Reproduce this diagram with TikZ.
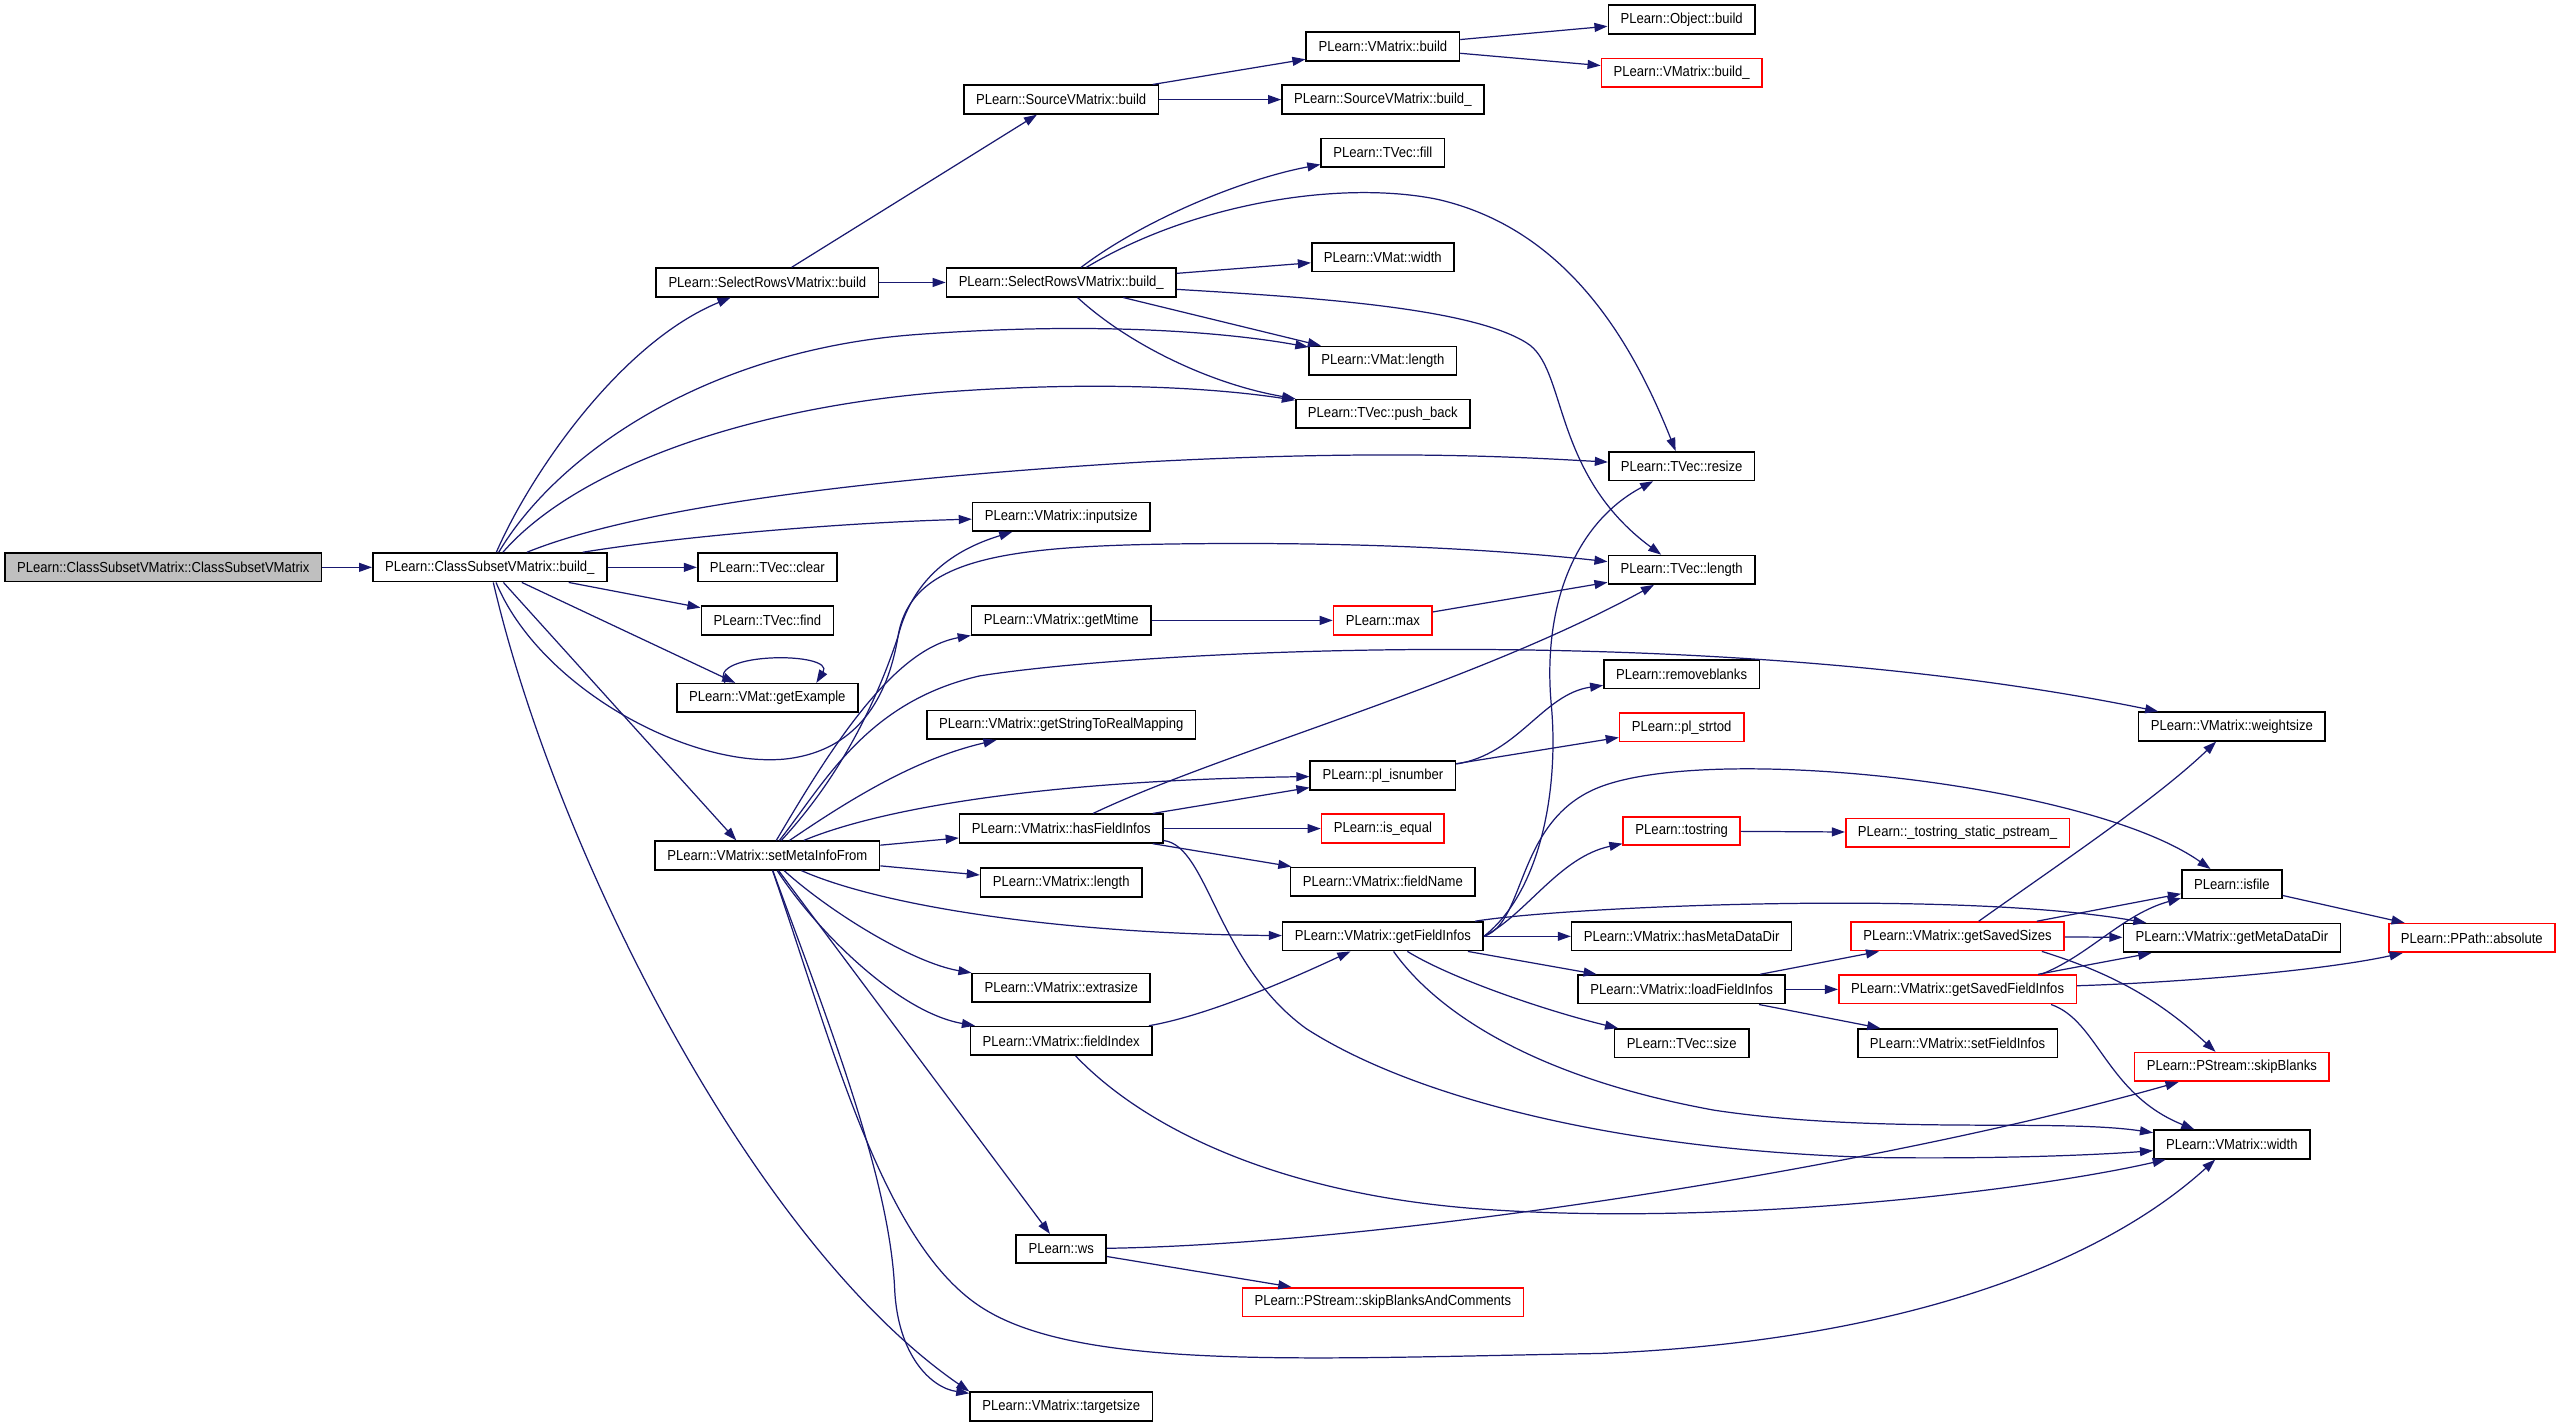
\documentclass[tikz,border=0pt]{standalone}
\usepackage{fontspec}
\setmainfont{Liberation Sans}[FakeStretch=0.9]
\usepackage{tikz}
\usetikzlibrary{arrows.meta}
\definecolor{edgeblue}{HTML}{191970}

\begin{document}
\begin{tikzpicture}[x=1pt, y=-1pt,
    box/.style={draw=black, line width=1pt, fill=white, minimum height=17.5pt,
                inner xsep=7.5pt, inner ysep=0pt, font=\fontsize{8.9}{10.5}\selectfont},
    redbox/.style={box, draw=red},
    rootbox/.style={box, fill=gray!50},
    call/.style={-{Triangle[length=8pt,width=5.5pt]}, draw=edgeblue, line width=0.75pt}]
    \path[use as bounding box, fill=white] (0,0) rectangle (1568,871.6);

    % functions, column by column
    \node[rootbox] (csvctor) at (100,347.5) {PLearn::ClassSubsetVMatrix::ClassSubsetVMatrix};
    \node[box] (csvbuild) at (300,347.5) {PLearn::ClassSubsetVMatrix::build\_};

    \node[box] (srvbuild) at (470,173) {PLearn::SelectRowsVMatrix::build};
    \node[box] (tvclear) at (470,347.5) {PLearn::TVec::clear};
    \node[box] (tvfind) at (470,380) {PLearn::TVec::find};
    \node[box] (getexample) at (470,427.5) {PLearn::VMat::getExample};
    \node[box] (setmeta) at (470,524) {PLearn::VMatrix::setMetaInfoFrom};

    \node[box] (svbuild) at (650,61) {PLearn::SourceVMatrix::build};
    \node[box] (srvbuildu) at (650,173) {PLearn::SelectRowsVMatrix::build\_};
    \node[box] (inputsize) at (650,316.5) {PLearn::VMatrix::inputsize};
    \node[box] (getmtime) at (650,380) {PLearn::VMatrix::getMtime};
    \node[box] (strmap) at (650,444) {PLearn::VMatrix::getStringToRealMapping};
    \node[box] (hasfi) at (650,507.5) {PLearn::VMatrix::hasFieldInfos};
    \node[box] (vmlength) at (650,540.5) {PLearn::VMatrix::length};
    \node[box] (extrasize) at (650,605) {PLearn::VMatrix::extrasize};
    \node[box] (fieldindex) at (650,637.5) {PLearn::VMatrix::fieldIndex};
    \node[box] (ws) at (650,765) {PLearn::ws};
    \node[box] (targetsize) at (650,861.5) {PLearn::VMatrix::targetsize};

    \node[box] (vmbuild) at (847,28.5) {PLearn::VMatrix::build};
    \node[box] (svbuildu) at (847,61) {PLearn::SourceVMatrix::build\_};
    \node[box] (tvfill) at (847,93.5) {PLearn::TVec::fill};
    \node[box] (vmatwidth) at (847,157.5) {PLearn::VMat::width};
    \node[box] (vmatlength) at (847,221) {PLearn::VMat::length};
    \node[box] (tvpush) at (847,253.5) {PLearn::TVec::push\_back};
    \node[redbox] (plmax) at (847,380) {PLearn::max};
    \node[box] (isnumber) at (847,475) {PLearn::pl\_isnumber};
    \node[redbox] (isequal) at (847,507.5) {PLearn::is\_equal};
    \node[box] (fieldname) at (847,540) {PLearn::VMatrix::fieldName};
    \node[box] (getfi) at (847,573.5) {PLearn::VMatrix::getFieldInfos};
    \node[redbox] (skipbac) at (847,797.5) {PLearn::PStream::skipBlanksAndComments};

    \node[box] (objbuild) at (1030,12) {PLearn::Object::build};
    \node[redbox] (vmbuildu) at (1030,44.5) {PLearn::VMatrix::build\_};
    \node[box] (tvresize) at (1030,285.5) {PLearn::TVec::resize};
    \node[box] (tvlength) at (1030,349) {PLearn::TVec::length};
    \node[box] (removeblanks) at (1030,413) {PLearn::removeblanks};
    \node[redbox] (strtod) at (1030,445.5) {PLearn::pl\_strtod};
    \node[redbox] (tostring) at (1030,509) {PLearn::tostring};
    \node[box] (hasmetadir) at (1030,573.5) {PLearn::VMatrix::hasMetaDataDir};
    \node[box] (loadfi) at (1030,606) {PLearn::VMatrix::loadFieldInfos};
    \node[box] (tvsize) at (1030,639) {PLearn::TVec::size};

    \node[redbox] (pstream) at (1199,510) {PLearn::\_tostring\_static\_pstream\_};
    \node[redbox] (savedsizes) at (1199,573.5) {PLearn::VMatrix::getSavedSizes};
    \node[redbox] (savedfi) at (1199,606) {PLearn::VMatrix::getSavedFieldInfos};
    \node[box] (setfi) at (1199,639) {PLearn::VMatrix::setFieldInfos};

    \node[box] (weightsize) at (1367,445) {PLearn::VMatrix::weightsize};
    \node[box] (isfile) at (1367,541.5) {PLearn::isfile};
    \node[box] (getmetadir) at (1367,574.5) {PLearn::VMatrix::getMetaDataDir};
    \node[redbox] (skipblanks) at (1367,653.5) {PLearn::PStream::skipBlanks};
    \node[box] (vmwidth) at (1367,701) {PLearn::VMatrix::width};
    \node[redbox] (absolute) at (1514,574.5) {PLearn::PPath::absolute};

    % straight calls
    \foreach \a/\b in {csvctor/csvbuild, csvbuild/tvclear, csvbuild/tvfind, csvbuild/getexample,
                       srvbuild/svbuild, srvbuild/srvbuildu, svbuild/vmbuild, svbuild/svbuildu,
                       vmbuild/objbuild, vmbuild/vmbuildu, srvbuildu/vmatwidth, srvbuildu/vmatlength,
                       getmtime/plmax, plmax/tvlength, isnumber/strtod, hasfi/isequal, hasfi/fieldname,
                       hasfi/isnumber, setmeta/hasfi, setmeta/vmlength, setmeta/ws, getfi/hasmetadir,
                       getfi/loadfi, loadfi/savedsizes, loadfi/savedfi, loadfi/setfi,
                       savedsizes/getmetadir, savedsizes/isfile, savedfi/getmetadir,
                       tostring/pstream, isfile/absolute, ws/skipbac}
        \draw[call] (\a) -- (\b);
    \draw[call] (csvbuild) -- ([xshift=-19pt]setmeta.north);

    % curved calls of build_
    \draw[call] (csvbuild) .. controls (325,290) and (380,210) .. (srvbuild);
    \draw[call] (csvbuild) .. controls (340,280) and (430,215) .. (560,205) .. controls (680,196) and (760,205) .. (vmatlength);
    \draw[call] (csvbuild) .. controls (350,290) and (450,250) .. (580,240) .. controls (690,232) and (760,240) .. (tvpush);
    \draw[call] (csvbuild) .. controls (380,315) and (500,295) .. (700,283) .. controls (850,275) and (930,280) .. (tvresize);
    \draw[call] (csvbuild) .. controls (420,328) and (520,320) .. (inputsize);
    \draw[call] (csvbuild) .. controls (330,420) and (420,470) .. (480,465) .. controls (530,460) and (545,420) .. (550,390)
        .. controls (558,340) and (620,334) .. (735,333) .. controls (850,332) and (930,338) .. (tvlength);
    \draw[call] (csvbuild) .. controls (340,520) and (460,760) .. (targetsize.north west);
    \draw[call] ([xshift=-26pt]getexample.north) .. controls (432,399) and (512,399) .. ([xshift=30pt]getexample.north);

    % setMetaInfoFrom
    \draw[call] (setmeta) .. controls (505,480) and (530,430) .. (600,414) .. controls (700,398) and (1050,380) .. (weightsize);
    \draw[call] (setmeta) .. controls (520,470) and (540,420) .. (550,390) .. controls (560,350) and (590,335) .. (inputsize);
    \draw[call] (setmeta) .. controls (505,465) and (545,398) .. (getmtime.south west);
    \draw[call] (setmeta) .. controls (520,490) and (560,465) .. (strmap);
    \draw[call] (setmeta) .. controls (540,495) and (640,478) .. (isnumber);
    \draw[call] (setmeta) .. controls (540,555) and (650,572) .. (getfi);
    \draw[call] (setmeta) .. controls (510,560) and (560,590) .. (extrasize);
    \draw[call] (setmeta) .. controls (500,570) and (550,620) .. (fieldindex);
    \draw[call] (setmeta) .. controls (505,620) and (545,720) .. (548,790) .. controls (550,830) and (570,850) .. (targetsize);
    \draw[call] (setmeta) .. controls (510,640) and (540,760) .. (600,800) .. controls (660,840) and (800,832) .. (980,829)
        .. controls (1150,822) and (1280,780) .. (vmwidth);

    % SelectRowsVMatrix::build_
    \draw[call] (srvbuildu) .. controls (700,135) and (760,110) .. (tvfill);
    \draw[call] (srvbuildu) .. controls (730,125) and (820,110) .. (880,122) .. controls (960,140) and (1000,210) .. (tvresize);
    \draw[call] (srvbuildu) .. controls (800,182) and (900,188) .. (935,210) .. controls (960,225) and (950,290) .. (tvlength);
    \draw[call] (srvbuildu) .. controls (690,210) and (740,235) .. (tvpush);

    % field infos
    \draw[call] (hasfi) .. controls (750,460) and (900,420) .. (tvlength);
    \draw[call] (hasfi) .. controls (740,518) and (745,590) .. (800,630) .. controls (870,675) and (1000,705) .. (1150,709)
        .. controls (1230,710) and (1290,707) .. (vmwidth);
    \draw[call] (isnumber) .. controls (930,462) and (945,425) .. (removeblanks);
    \draw[call] (fieldindex) .. controls (740,622) and (790,600) .. (getfi);
    \draw[call] (fieldindex) .. controls (700,690) and (780,730) .. (900,740) .. controls (1050,752) and (1240,730) .. (vmwidth);
    \draw[call] (getfi) .. controls (890,600) and (950,620) .. (tvsize);
    \draw[call] (getfi) .. controls (880,620) and (940,660) .. (1050,680) .. controls (1150,695) and (1260,685) .. (vmwidth);
    \draw[call] (getfi) .. controls (960,555) and (1200,545) .. (getmetadir);
    \draw[call] (getfi.east) .. controls (935,565) and (928,502) .. (980,482) .. controls (1050,455) and (1280,480) .. (isfile);
    \draw[call] (getfi.east) .. controls (935,560) and (955,525) .. (tostring);
    \draw[call] (getfi.east) .. controls (945,545) and (955,480) .. (950,430) .. controls (945,370) and (965,320) .. (tvresize);

    % saved sizes and infos
    \draw[call] (savedsizes) .. controls (1260,530) and (1320,490) .. (weightsize);
    \draw[call] ([xshift=-14pt]savedsizes.south east) .. controls (1290,595) and (1320,610) .. (skipblanks);
    \draw[call] ([xshift=-22pt]savedfi.north east) .. controls (1280,585) and (1300,560) .. (isfile);
    \draw[call] (savedfi) .. controls (1330,602) and (1420,595) .. (absolute);
    \draw[call] ([xshift=-16pt]savedfi.south east) .. controls (1285,625) and (1290,670) .. (vmwidth);
    \draw[call] (ws) .. controls (850,762) and (1150,715) .. (skipblanks);
\end{tikzpicture}
\end{document}
